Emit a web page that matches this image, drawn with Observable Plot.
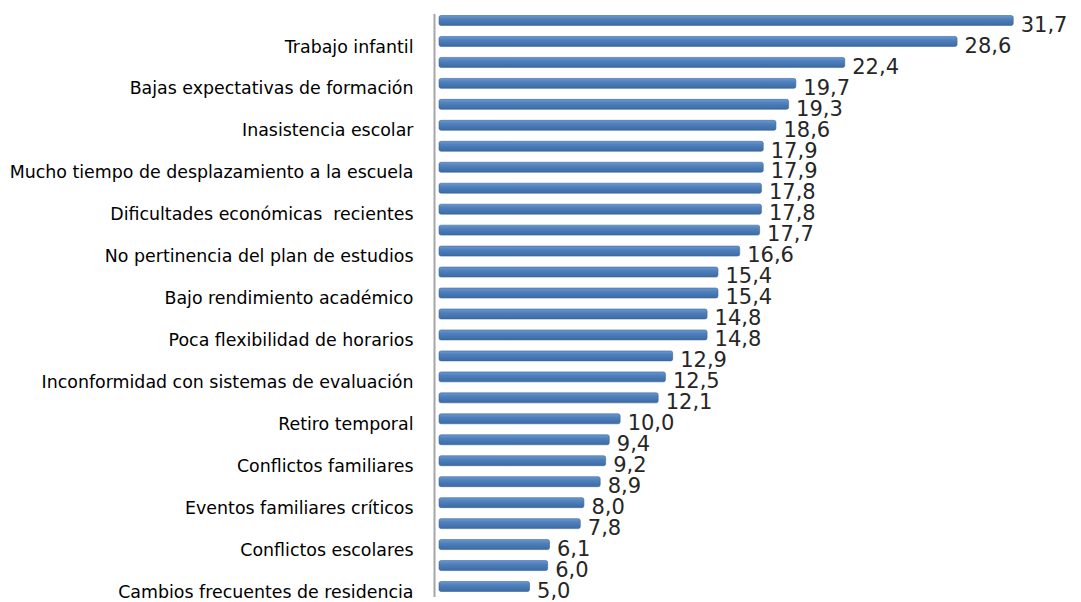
<!DOCTYPE html>
<html>
<head>
<meta charset="utf-8">
<script src="https://cdn.jsdelivr.net/npm/d3@7"></script>
<script src="https://cdn.jsdelivr.net/npm/@observablehq/plot@0.6"></script>
<style>
  body { margin: 0; background: #fff; }
  #chart svg { display: block; }
</style>
</head>
<body>
<div id="chart"></div>
<script>
// 28 bars; only every second bar carries a category label in the source chart
const labels = [
  "", "Trabajo infantil",
  "", "Bajas expectativas de formación",
  "", "Inasistencia escolar",
  "", "Mucho tiempo de desplazamiento a la escuela",
  "", "Dificultades económicas  recientes",
  "", "No pertinencia del plan de estudios",
  "", "Bajo rendimiento académico",
  "", "Poca flexibilidad de horarios",
  "", "Inconformidad con sistemas de evaluación",
  "", "Retiro temporal",
  "", "Conflictos familiares",
  "", "Eventos familiares críticos",
  "", "Conflictos escolares",
  "", "Cambios frecuentes de residencia"
];
const values = [
  31.7, 28.6, 22.4, 19.7, 19.3, 18.6, 17.9, 17.9, 17.8, 17.8,
  17.7, 16.6, 15.4, 15.4, 14.8, 14.8, 12.9, 12.5, 12.1, 10.0,
  9.4, 9.2, 8.9, 8.0, 7.8, 6.1, 6.0, 5.0
];

const data = values.map((v, i) => ({idx: i, label: labels[i], value: v}));
const fmt = v => v.toFixed(1).replace(".", ",");

const chart = Plot.plot({
  width: 1081,
  height: 602,
  marginLeft: 439,
  marginRight: 8,
  marginTop: 10,
  marginBottom: 5,
  style: {fontFamily: "'DejaVu Sans', sans-serif", background: "#fff"},
  x: {domain: [0, 35], axis: null},
  y: {
    type: "band",
    domain: d3.range(values.length),
    padding: 0,
    round: false,
    label: null,
    axis: null
  },
  marks: [
    Plot.axisY({
      label: null,
      tickSize: 0,
      tickPadding: 26,
      tickFormat: i => labels[i],
      fontSize: 17.4,
      fill: "#000",
      dy: 5
    }),
    Plot.barX(data, {
      x: "value", y: "idx",
      insetTop: 5.5, insetBottom: 5.5,
      fill: "url(#barGrad)",
      stroke: "#3a6599", strokeWidth: 0.6,
      rx: 2
    }),
    Plot.text(data, {
      x: "value", y: "idx",
      text: d => fmt(d.value),
      textAnchor: "start",
      dx: 7, dy: 4,
      fontSize: 21,
      letterSpacing: "2px",
      fill: "#262626"
    }),
    Plot.ruleX([0], {dx: -5, insetTop: 4, stroke: "#a6a6a6", strokeWidth: 2})
  ]
});

// gradient for the 3D-like bar look
const svg = d3.select(chart);
const defs = svg.insert("defs", ":first-child");
const g = defs.append("linearGradient")
  .attr("id", "barGrad").attr("x1", 0).attr("y1", 0).attr("x2", 0).attr("y2", 1);
g.append("stop").attr("offset", "0%").attr("stop-color", "#6b98d0");
g.append("stop").attr("offset", "35%").attr("stop-color", "#4f81bd");
g.append("stop").attr("offset", "100%").attr("stop-color", "#3c6aa3");

document.getElementById("chart").append(chart);
</script>
</body>
</html>
